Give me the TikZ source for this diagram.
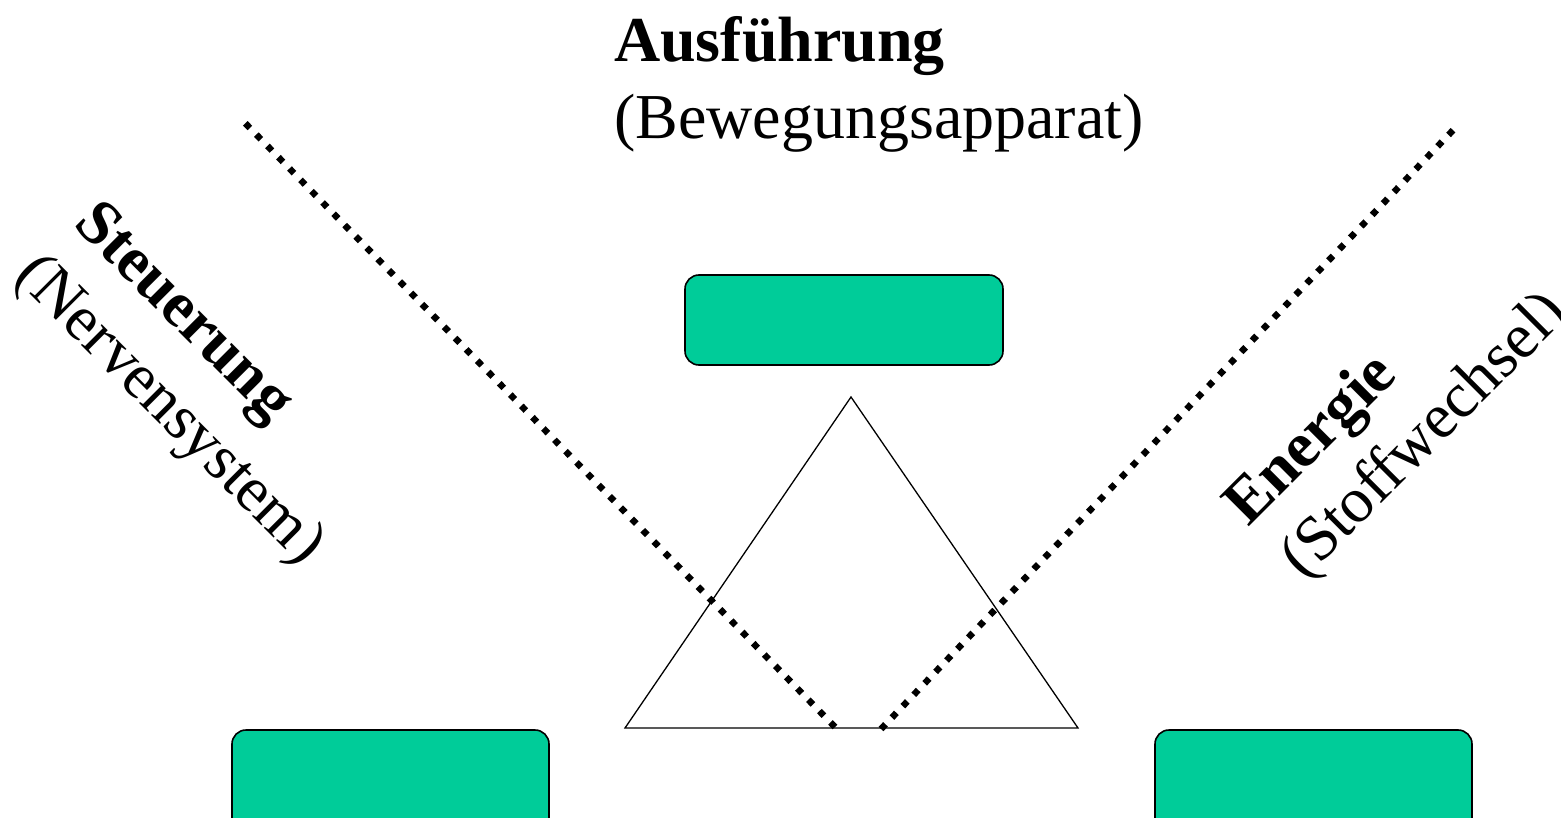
\documentclass[tikz,border=0pt]{standalone}
\usepackage{fontspec}
\setmainfont{Liberation Serif}
\definecolor{boxgreen}{RGB}{0,204,153}
\begin{document}
\begin{tikzpicture}[x=1pt,y=-1pt,
  greenbox/.style={draw=black,line width=1.6pt,fill=boxgreen,rounded corners=14pt},
  dotline/.style={line width=6.5pt,dash pattern=on 6.5pt off 9.3pt,line cap=butt},
  bigtext/.style={font=\fontsize{64}{77}\selectfont,inner sep=0pt,anchor=base west},
  bigbold/.style={bigtext,font=\fontsize{64}{77}\selectfont\bfseries}]
\useasboundingbox (0,0) rectangle (1561,818);
% boxes
\draw[greenbox] (685,275) rectangle (1003,365);
\node[inner sep=0pt] (top) at (844,320) {};
\draw[greenbox] (232,730) rectangle (549,840);
\node[inner sep=0pt] (bl) at (390,775) {};
\draw[greenbox] (1155,730) rectangle (1472,840);
\node[inner sep=0pt] (br) at (1313,775) {};
% triangle
\coordinate (apex) at (851,397);
\coordinate (tl) at (625,728);
\coordinate (tr) at (1078,728);
\draw[line width=1.3pt,line join=miter] (apex) -- (tl) -- (tr) -- cycle;
% dotted lines
\coordinate (l1) at (835,727);
\coordinate (l2) at (244,122);
\coordinate (r1) at (881,729);
\coordinate (r2) at (1458,125);
\draw[dotline] (l1) -- (l2);
\draw[dotline] (r1) -- (r2);
% labels
\node[bigbold] (aus) at (614,62) {Ausführung};
\node[bigtext] (bew) at (614,139) {(Bewegungsapparat)};
\node[bigbold,rotate=-45] (steu) at (72,225) {Steuerung};
\node[bigtext,rotate=-45] (nerv) at (13,277) {(Nervensystem)};
\node[bigbold,rotate=45] (ene) at (1248,528) {Energie};
\node[bigtext,rotate=45] (stoff) at (1304,581) {(Stoffwechsel)};
\end{tikzpicture}
\end{document}
